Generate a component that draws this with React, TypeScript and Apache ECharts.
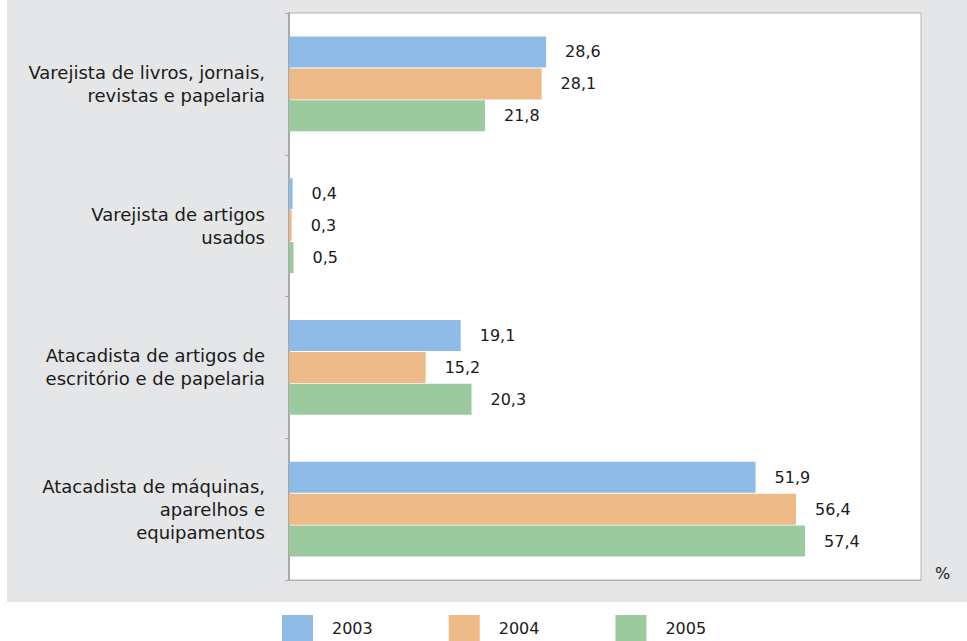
import React, { useEffect, useRef } from "react";
import * as echarts from "echarts";

const categories = [
  "Varejista de livros, jornais,\nrevistas e papelaria",
  "Varejista de artigos\nusados",
  "Atacadista de artigos de\nescritório e de papelaria",
  "Atacadista de máquinas,\naparelhos e\nequipamentos",
];
const seriesNames = ["2003", "2004", "2005"];
const values2003 = [28.6, 0.4, 19.1, 51.9];
const values2004 = [28.1, 0.3, 15.2, 56.4];
const values2005 = [21.8, 0.5, 20.3, 57.4];
const colors = ["#8fbce6", "#ecb987", "#9bca9e"];

export default function App() {
  const ref = useRef<HTMLDivElement>(null);
  useEffect(() => {
    if (!ref.current) return;
    const chart = echarts.init(ref.current, null, { renderer: "svg" });
    const font = "'DejaVu Sans', Verdana, sans-serif";
    const data = [values2003, values2004, values2005];
    chart.setOption({
      animation: false,
      backgroundColor: "#ffffff",
      textStyle: { fontFamily: font },
      graphic: [
        {
          type: "rect",
          z: -10,
          silent: true,
          shape: { x: 7, y: 0, width: 960, height: 602 },
          style: { fill: "#e5e6e7" },
        },
        {
          type: "text",
          x: 935,
          y: 573,
          style: { text: "%", fontSize: 16, fill: "#1a1a1a", fontFamily: font, textVerticalAlign: "middle" },
        },
      ],
      grid: {
        left: 289,
        top: 13,
        width: 632,
        height: 567,
        show: true,
        backgroundColor: "#ffffff",
        borderColor: "#b5b5b5",
        borderWidth: 1,
      },
      legend: {
        data: seriesNames,
        top: 615,
        left: 282,
        padding: 0,
        itemWidth: 31,
        itemHeight: 26,
        itemGap: 76,
        icon: "rect",
        textStyle: { fontSize: 16, color: "#1a1a1a", fontFamily: font, padding: [0, 0, 0, 14] },
      },
      xAxis: {
        type: "value",
        min: 0,
        max: 70.3,
        axisLabel: { show: false },
        axisTick: { show: false },
        splitLine: { show: false },
        axisLine: { show: true, lineStyle: { color: "#b5b5b5" } },
      },
      yAxis: {
        type: "category",
        data: categories,
        inverse: true,
        axisLine: { show: true, lineStyle: { color: "#a8a8a8", width: 2 } },
        axisTick: { show: true, length: 4, lineStyle: { color: "#a8a8a8" } },
        axisLabel: {
          fontSize: 18,
          color: "#1a1a1a",
          margin: 24,
          lineHeight: 23,
          align: "right",
          fontFamily: font,
        },
      },
      series: seriesNames.map((name, i) => ({
        name,
        type: "bar",
        data: data[i],
        barWidth: 31,
        barGap: "3%",
        itemStyle: { color: colors[i] },
        label: {
          show: true,
          position: "right",
          distance: 19,
          fontSize: 16,
          color: "#1a1a1a",
          fontFamily: font,
          formatter: (p: any) => String(p.value).replace(".", ","),
        },
      })),
    });
    return () => chart.dispose();
  }, []);
  return (
    <div
      ref={ref}
      style={{ position: "fixed", left: 0, top: 0, width: 967, height: 641 }}
    />
  );
}
